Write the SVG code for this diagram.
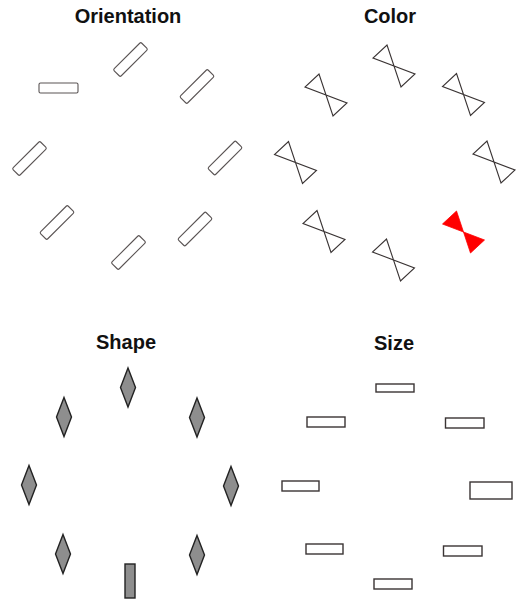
<svg xmlns="http://www.w3.org/2000/svg" xmlns:xlink="http://www.w3.org/1999/xlink" width="521" height="603" viewBox="0 0 521 603">
<style>
.title{font-family:"Liberation Sans",Arial,sans-serif;font-weight:bold;font-size:20px;fill:#111;text-anchor:middle}
.ori{fill:#fff;stroke:#5a5454;stroke-width:1.1}
.bow{fill:none;stroke:#3a3434;stroke-width:1.1;stroke-linejoin:miter}
.bowred{fill:#ff0000;stroke:#ff0000;stroke-width:0.8}
.dia{fill:#8e8e8e;stroke:#222;stroke-width:1.4}
.sz{fill:#fff;stroke:#3a3434;stroke-width:1.4}
</style>
<defs>
<rect id="bar" x="-19.5" y="-5" width="39" height="10" rx="1.5"/>
<path id="bowtie" d="M-7,-21 L7,21 L21,8 L-21,-8 Z"/>
<path id="diamond" d="M0,-19.5 L7.5,0 L0,19.5 L-7.5,0 Z"/>
</defs>
<rect width="521" height="603" fill="#fff"/>

<g id="orientation">
<text class="title" x="128" y="23">Orientation</text>
<rect class="ori" x="39" y="83" width="39" height="10" rx="1.5"/>
<use class="ori" xlink:href="#bar" transform="translate(130.5,59.5) rotate(-45)"/>
<use class="ori" xlink:href="#bar" transform="translate(197,86.5) rotate(-45)"/>
<use class="ori" xlink:href="#bar" transform="translate(29.5,158.5) rotate(-45)"/>
<use class="ori" xlink:href="#bar" transform="translate(225,158) rotate(-45)"/>
<use class="ori" xlink:href="#bar" transform="translate(57,222.5) rotate(-45)"/>
<use class="ori" xlink:href="#bar" transform="translate(128.5,252.5) rotate(-45)"/>
<use class="ori" xlink:href="#bar" transform="translate(195,229) rotate(-45)"/>
</g>

<g id="color">
<text class="title" x="390" y="23">Color</text>
<use class="bow" xlink:href="#bowtie" transform="translate(326,95)"/>
<use class="bow" xlink:href="#bowtie" transform="translate(394,66)"/>
<use class="bow" xlink:href="#bowtie" transform="translate(463.5,94.5)"/>
<use class="bow" xlink:href="#bowtie" transform="translate(295.5,162.5)"/>
<use class="bow" xlink:href="#bowtie" transform="translate(494,162)"/>
<use class="bow" xlink:href="#bowtie" transform="translate(324,231.5)"/>
<use class="bow" xlink:href="#bowtie" transform="translate(393.5,260)"/>
<use class="bowred" xlink:href="#bowtie" transform="translate(463.5,232)"/>
</g>

<g id="shape">
<text class="title" x="126" y="349">Shape</text>
<use class="dia" xlink:href="#diamond" transform="translate(128,387.5)"/>
<use class="dia" xlink:href="#diamond" transform="translate(64,417)"/>
<use class="dia" xlink:href="#diamond" transform="translate(197,417.5)"/>
<use class="dia" xlink:href="#diamond" transform="translate(29,485)"/>
<use class="dia" xlink:href="#diamond" transform="translate(231,486)"/>
<use class="dia" xlink:href="#diamond" transform="translate(63,554)"/>
<use class="dia" xlink:href="#diamond" transform="translate(197,555)"/>
<rect class="dia" x="125" y="564" width="10" height="34"/>
</g>

<g id="size">
<text class="title" x="394" y="350">Size</text>
<rect class="sz" x="376" y="384" width="38" height="8"/>
<rect class="sz" x="307" y="417" width="38" height="10"/>
<rect class="sz" x="445.5" y="418" width="38.5" height="10"/>
<rect class="sz" x="282" y="481" width="37" height="10"/>
<rect class="sz" x="470" y="482" width="42" height="17"/>
<rect class="sz" x="306" y="544" width="37" height="10"/>
<rect class="sz" x="443.5" y="546" width="38.5" height="10"/>
<rect class="sz" x="374" y="579" width="38" height="10"/>
</g>
</svg>
